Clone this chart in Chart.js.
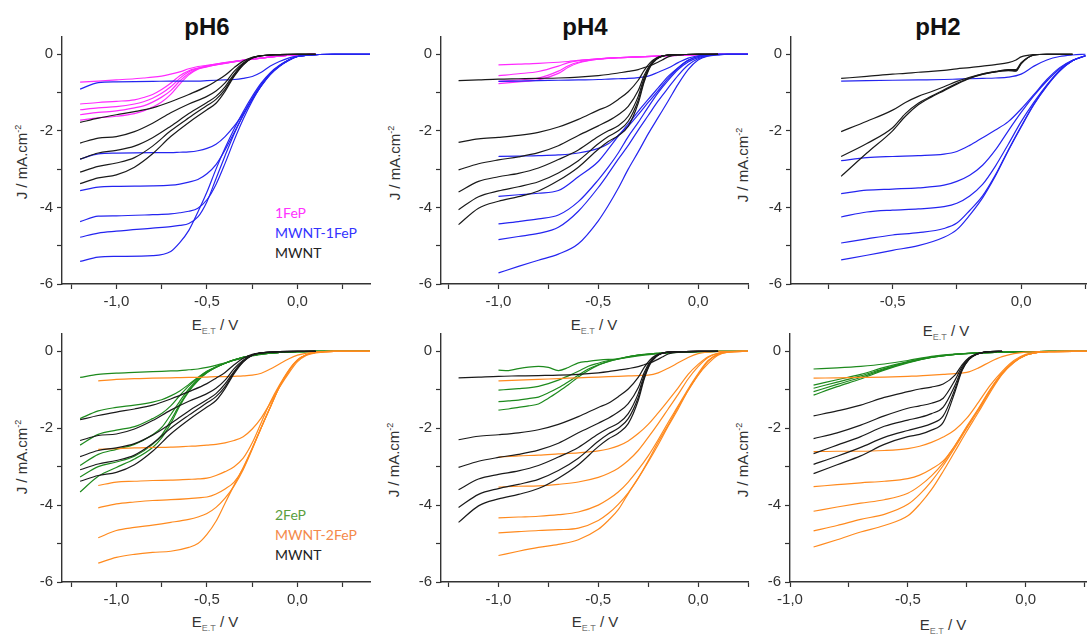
<!DOCTYPE html>
<html>
<head>
<meta charset="utf-8">
<script src="https://cdn.jsdelivr.net/npm/chart.js@4/dist/chart.umd.min.js"></script>
<style>
    body { margin: 0; width: 1087px; height: 637px; overflow: hidden; background: #fff; position: relative; font-family: 'Liberation Sans', Arial, sans-serif; color: #333; }
    canvas { position: absolute; }
    .title { position: absolute; font-weight: bold; font-size: 24px; line-height: 1; color: #111; transform: translate(-50%, -50%); white-space: nowrap; }
    .ylab { position: absolute; font-size: 15px; line-height: 1; transform: translate(-50%, -50%) rotate(-90deg); white-space: nowrap; }
    .ylab sup { font-size: 9px; }
    .xlab { position: absolute; font-size: 15px; line-height: 1; transform: translate(-50%, -50%); white-space: nowrap; }
    .xlab sub { font-size: 9px; color: #777; }
    .leg { position: absolute; font-family: Lato, 'Open Sans', sans-serif; font-size: 14px; line-height: 20px; white-space: nowrap; }
</style>
</head>
<body>

<div class="title" style="left:207px; top:27px;">pH6</div>
<div class="title" style="left:585px; top:27px;">pH4</div>
<div class="title" style="left:938px; top:27px;">pH2</div>

<div class="ylab" style="left:21px; top:162px;">J / mA.cm<sup>-2</sup></div>
<div class="ylab" style="left:394px; top:163px;">J / mA.cm<sup>-2</sup></div>
<div class="ylab" style="left:742px; top:165px;">J / mA.cm<sup>-2</sup></div>
<div class="ylab" style="left:21px; top:457px;">J / mA.cm<sup>-2</sup></div>
<div class="ylab" style="left:393px; top:460px;">J / mA.cm<sup>-2</sup></div>
<div class="ylab" style="left:742px; top:460px;">J / mA.cm<sup>-2</sup></div>

<div class="xlab" style="left:215px; top:326px;">E<sub>E.T</sub> / V</div>
<div class="xlab" style="left:594px; top:326px;">E<sub>E.T</sub> / V</div>
<div class="xlab" style="left:946px; top:332px;">E<sub>E.T</sub> / V</div>
<div class="xlab" style="left:215px; top:623px;">E<sub>E.T</sub> / V</div>
<div class="xlab" style="left:595px; top:623px;">E<sub>E.T</sub> / V</div>
<div class="xlab" style="left:943px; top:626px;">E<sub>E.T</sub> / V</div>

<div class="leg" style="left:275px; top:203px;">
    <div style="color:#ff33ff;">1FeP</div>
    <div style="color:#3333ff;">MWNT-1FeP</div>
    <div style="color:#222;">MWNT</div>
</div>
<div class="leg" style="left:275px; top:505px;">
    <div style="color:#5a9e3e;">2FeP</div>
    <div style="color:#f4894a;">MWNT-2FeP</div>
    <div style="color:#222;">MWNT</div>
</div>

<script>
// ---- axis ticks ----
const yTicks = [0, -1, -2, -3, -4, -5, -6];
const xTicksWide = [-1.25, -1.0, -0.75, -0.5, -0.25, 0, 0.25];
const xTicksPH2top = [-0.75, -0.5, -0.25, 0, 0.25];
const xTicksPH2bot = [-1.0, -0.75, -0.5, -0.25, 0, 0.25];

// ---- pH6 ----
const ph6X_1FeP = [-1.2, -1.1, -1.0, -0.9, -0.85, -0.8, -0.75, -0.7, -0.65, -0.6, -0.55, -0.5, -0.4, -0.3, -0.2, -0.1, 0.0, 0.1];
const ph6_1FeP = [
    [-0.73, -0.70, -0.67, -0.64, -0.62, -0.60, -0.57, -0.52, -0.46, -0.38, -0.32, -0.29, -0.22, -0.16, -0.10, -0.05, -0.02, 0],
    [-1.30, -1.26, -1.23, -1.19, -1.13, -1.05, -0.92, -0.76, -0.56, -0.43, -0.36, -0.30, -0.22, -0.15, -0.10, -0.05, -0.02, 0],
    [-1.45, -1.40, -1.37, -1.30, -1.24, -1.15, -1.02, -0.85, -0.63, -0.46, -0.37, -0.31, -0.23, -0.16, -0.10, -0.05, -0.02, 0],
    [-1.58, -1.52, -1.48, -1.40, -1.35, -1.25, -1.12, -0.95, -0.70, -0.50, -0.38, -0.32, -0.23, -0.16, -0.10, -0.05, -0.02, 0],
    [-1.72, -1.66, -1.62, -1.55, -1.48, -1.38, -1.25, -1.05, -0.78, -0.54, -0.39, -0.33, -0.24, -0.16, -0.10, -0.05, -0.02, 0]
];

const ph6X_MWNT = [-1.2, -1.1, -1.0, -0.9, -0.8, -0.7, -0.6, -0.5, -0.45, -0.4, -0.35, -0.3, -0.25, -0.2, -0.1, 0.0, 0.1];
const ph6_MWNT = [
    [-1.78, -1.67, -1.58, -1.50, -1.40, -1.24, -1.05, -0.84, -0.70, -0.55, -0.35, -0.18, -0.08, -0.04, -0.01, 0, 0],
    [-2.32, -2.19, -2.15, -2.02, -1.80, -1.53, -1.30, -1.10, -0.96, -0.75, -0.45, -0.23, -0.09, -0.04, -0.01, 0, 0],
    [-2.74, -2.58, -2.51, -2.40, -2.18, -1.88, -1.55, -1.26, -1.10, -0.85, -0.52, -0.25, -0.10, -0.04, -0.01, 0, 0],
    [-3.08, -2.93, -2.84, -2.70, -2.40, -2.00, -1.66, -1.34, -1.18, -0.92, -0.55, -0.27, -0.10, -0.04, -0.01, 0, 0],
    [-3.38, -3.23, -3.15, -2.95, -2.60, -2.15, -1.78, -1.45, -1.28, -0.97, -0.58, -0.28, -0.10, -0.04, -0.01, 0, 0]
];

const ph6X_MWNT1FeP = [-1.2, -1.1, -1.0, -0.8, -0.7, -0.65, -0.6, -0.55, -0.5, -0.45, -0.4, -0.35, -0.3, -0.25, -0.2, -0.15, -0.1, -0.05, 0.0, 0.1, 0.2, 0.4];
const ph6_MWNT1FeP = [
    [-0.91, -0.74, -0.72, -0.71, -0.70, -0.70, -0.70, -0.70, -0.69, -0.68, -0.67, -0.66, -0.63, -0.58, -0.47, -0.31, -0.19, -0.10, -0.05, -0.01, 0, 0],
    [-2.74, -2.60, -2.58, -2.57, -2.57, -2.56, -2.55, -2.52, -2.46, -2.35, -2.15, -1.88, -1.55, -1.18, -0.83, -0.53, -0.32, -0.16, -0.06, -0.01, 0, 0],
    [-3.56, -3.47, -3.45, -3.44, -3.42, -3.39, -3.34, -3.27, -3.12, -2.88, -2.50, -2.05, -1.60, -1.18, -0.82, -0.52, -0.31, -0.16, -0.06, -0.01, 0, 0],
    [-4.37, -4.23, -4.22, -4.19, -4.17, -4.14, -4.10, -4.02, -3.80, -3.40, -2.85, -2.25, -1.70, -1.22, -0.82, -0.52, -0.31, -0.16, -0.06, -0.01, 0, 0],
    [-4.78, -4.67, -4.62, -4.54, -4.50, -4.47, -4.42, -4.25, -3.85, -3.25, -2.65, -2.08, -1.58, -1.15, -0.78, -0.50, -0.30, -0.15, -0.06, -0.01, 0, 0],
    [-5.41, -5.30, -5.28, -5.26, -5.15, -4.92, -4.60, -4.12, -3.60, -3.00, -2.45, -1.95, -1.50, -1.10, -0.75, -0.48, -0.29, -0.15, -0.06, -0.01, 0, 0]
];

const ph6X_2FeP = [-1.2, -1.1, -1.0, -0.9, -0.8, -0.75, -0.7, -0.65, -0.6, -0.55, -0.5, -0.4, -0.3, -0.2, -0.1, 0, 0.1, 0.2, 0.4];
const ph6_2FeP = [
    [-0.68, -0.60, -0.57, -0.55, -0.53, -0.52, -0.51, -0.50, -0.48, -0.46, -0.42, -0.30, -0.17, -0.08, -0.03, -0.01, 0, 0, 0],
    [-1.75, -1.55, -1.46, -1.40, -1.32, -1.26, -1.16, -1.03, -0.86, -0.68, -0.52, -0.31, -0.16, -0.07, -0.03, -0.01, 0, 0, 0],
    [-2.44, -2.16, -2.05, -1.96, -1.75, -1.62, -1.42, -1.15, -0.90, -0.70, -0.52, -0.31, -0.16, -0.07, -0.03, -0.01, 0, 0, 0],
    [-2.97, -2.68, -2.55, -2.42, -2.17, -1.98, -1.65, -1.30, -0.98, -0.73, -0.54, -0.31, -0.16, -0.07, -0.03, -0.01, 0, 0, 0],
    [-3.27, -3.00, -2.88, -2.73, -2.42, -2.18, -1.80, -1.38, -1.02, -0.75, -0.55, -0.31, -0.16, -0.07, -0.03, -0.01, 0, 0, 0],
    [-3.66, -3.25, -3.02, -2.80, -2.50, -2.25, -1.88, -1.42, -1.05, -0.77, -0.56, -0.31, -0.16, -0.07, -0.03, -0.01, 0, 0, 0]
];

const ph6X_MWNT2FeP = [-1.1, -1.0, -0.9, -0.8, -0.7, -0.6, -0.55, -0.5, -0.45, -0.4, -0.35, -0.3, -0.25, -0.2, -0.15, -0.1, -0.05, 0, 0.05, 0.1, 0.2, 0.4];
const ph6_MWNT2FeP = [
    [-0.77, -0.73, -0.71, -0.70, -0.69, -0.68, -0.68, -0.67, -0.66, -0.66, -0.65, -0.64, -0.62, -0.57, -0.46, -0.33, -0.20, -0.10, -0.05, -0.02, 0, 0],
    [-2.55, -2.53, -2.51, -2.50, -2.49, -2.47, -2.46, -2.44, -2.42, -2.38, -2.32, -2.22, -2.02, -1.73, -1.34, -0.94, -0.58, -0.27, -0.10, -0.04, 0, 0],
    [-3.49, -3.40, -3.38, -3.36, -3.35, -3.33, -3.32, -3.30, -3.23, -3.13, -3.00, -2.78, -2.38, -1.85, -1.32, -0.88, -0.50, -0.22, -0.09, -0.03, 0, 0],
    [-4.07, -3.97, -3.92, -3.88, -3.86, -3.83, -3.81, -3.79, -3.71, -3.58, -3.40, -3.05, -2.52, -1.98, -1.45, -0.92, -0.52, -0.23, -0.09, -0.03, 0, 0],
    [-4.85, -4.66, -4.58, -4.52, -4.45, -4.37, -4.31, -4.22, -4.06, -3.82, -3.50, -3.08, -2.55, -1.98, -1.45, -0.92, -0.52, -0.23, -0.09, -0.03, 0, 0],
    [-5.51, -5.36, -5.28, -5.23, -5.20, -5.10, -5.00, -4.76, -4.42, -3.95, -3.48, -3.02, -2.52, -1.98, -1.45, -0.92, -0.52, -0.23, -0.09, -0.03, 0, 0]
];

// ---- pH4 ----
const ph4X_1FeP = [-1.0, -0.9, -0.8, -0.7, -0.65, -0.6, -0.55, -0.5, -0.4, -0.3, -0.2, -0.1, 0, 0.1, 0.25];
const ph4_1FeP = [
    [-0.28, -0.26, -0.24, -0.21, -0.19, -0.16, -0.14, -0.12, -0.09, -0.07, -0.05, -0.03, -0.01, 0, 0],
    [-0.56, -0.51, -0.45, -0.31, -0.22, -0.17, -0.14, -0.12, -0.09, -0.07, -0.05, -0.03, -0.01, 0, 0],
    [-0.71, -0.67, -0.62, -0.44, -0.30, -0.21, -0.16, -0.13, -0.09, -0.07, -0.05, -0.03, -0.01, 0, 0],
    [-0.77, -0.72, -0.67, -0.50, -0.34, -0.23, -0.17, -0.13, -0.09, -0.07, -0.05, -0.03, -0.01, 0, 0]
];

const ph4X_MWNT = [-1.2, -1.1, -1.0, -0.9, -0.8, -0.7, -0.6, -0.5, -0.45, -0.4, -0.35, -0.3, -0.27, -0.24, -0.21, -0.18, -0.15, -0.1, 0.0, 0.1];
const ph4_MWNT = [
    [-0.69, -0.67, -0.65, -0.64, -0.63, -0.62, -0.60, -0.56, -0.53, -0.49, -0.45, -0.40, -0.35, -0.30, -0.23, -0.15, -0.07, -0.02, 0, 0],
    [-2.30, -2.21, -2.17, -2.12, -2.04, -1.90, -1.70, -1.46, -1.35, -1.18, -0.98, -0.68, -0.42, -0.22, -0.10, -0.05, -0.02, -0.01, 0, 0],
    [-3.02, -2.86, -2.76, -2.68, -2.57, -2.39, -2.12, -1.87, -1.74, -1.58, -1.36, -0.95, -0.55, -0.27, -0.12, -0.05, -0.02, -0.01, 0, 0],
    [-3.60, -3.32, -3.20, -3.11, -2.97, -2.75, -2.50, -2.15, -2.00, -1.87, -1.62, -1.10, -0.62, -0.29, -0.12, -0.05, -0.02, -0.01, 0, 0],
    [-4.06, -3.72, -3.57, -3.46, -3.33, -3.10, -2.78, -2.34, -2.15, -2.00, -1.75, -1.20, -0.68, -0.31, -0.13, -0.05, -0.02, -0.01, 0, 0],
    [-4.45, -4.02, -3.84, -3.72, -3.57, -3.30, -2.95, -2.48, -2.28, -2.13, -1.88, -1.28, -0.72, -0.33, -0.14, -0.05, -0.02, -0.01, 0, 0]
];

const ph4X_MWNT1FeP = [-1.0, -0.9, -0.8, -0.7, -0.6, -0.5, -0.45, -0.4, -0.35, -0.3, -0.25, -0.2, -0.15, -0.1, -0.05, 0, 0.05, 0.1, 0.15, 0.25];
const ph4_MWNT1FeP = [
    [-0.71, -0.70, -0.69, -0.68, -0.67, -0.66, -0.65, -0.64, -0.63, -0.61, -0.57, -0.47, -0.36, -0.22, -0.10, -0.04, -0.01, 0, 0, 0],
    [-2.67, -2.66, -2.65, -2.63, -2.58, -2.46, -2.34, -2.12, -1.88, -1.58, -1.26, -0.95, -0.63, -0.36, -0.16, -0.06, -0.02, 0, 0, 0],
    [-3.71, -3.67, -3.63, -3.56, -3.20, -2.80, -2.48, -2.14, -1.82, -1.49, -1.18, -0.88, -0.58, -0.35, -0.16, -0.06, -0.02, 0, 0, 0],
    [-4.43, -4.37, -4.30, -4.20, -3.85, -3.28, -2.95, -2.58, -2.15, -1.78, -1.38, -1.00, -0.68, -0.40, -0.20, -0.09, -0.03, -0.01, 0, 0],
    [-4.84, -4.76, -4.68, -4.52, -4.10, -3.48, -3.12, -2.74, -2.38, -1.98, -1.60, -1.22, -0.88, -0.55, -0.28, -0.12, -0.04, -0.01, 0, 0],
    [-5.71, -5.54, -5.38, -5.22, -4.95, -4.35, -3.95, -3.50, -3.00, -2.55, -2.08, -1.65, -1.22, -0.78, -0.40, -0.15, -0.05, -0.02, 0, 0]
];

const ph4X_2FeP = [-1.0, -0.95, -0.9, -0.85, -0.8, -0.75, -0.7, -0.65, -0.6, -0.55, -0.5, -0.45, -0.4, -0.3, -0.2, -0.1, 0, 0.1, 0.25];
const ph4_2FeP = [
    [-0.49, -0.50, -0.45, -0.41, -0.39, -0.42, -0.50, -0.42, -0.30, -0.26, -0.23, -0.21, -0.20, -0.12, -0.06, -0.03, -0.01, 0, 0],
    [-1.01, -0.99, -0.97, -0.95, -0.91, -0.84, -0.75, -0.64, -0.52, -0.39, -0.31, -0.24, -0.19, -0.10, -0.05, -0.02, -0.01, 0, 0],
    [-1.31, -1.29, -1.27, -1.23, -1.19, -1.08, -0.95, -0.79, -0.62, -0.46, -0.35, -0.26, -0.20, -0.10, -0.05, -0.02, -0.01, 0, 0],
    [-1.53, -1.50, -1.46, -1.42, -1.37, -1.22, -1.05, -0.87, -0.67, -0.50, -0.36, -0.27, -0.20, -0.10, -0.05, -0.02, -0.01, 0, 0]
];

const ph4X_MWNT2FeP = [-1.0, -0.9, -0.8, -0.7, -0.6, -0.5, -0.45, -0.4, -0.35, -0.3, -0.25, -0.2, -0.15, -0.1, -0.05, 0, 0.05, 0.1, 0.15, 0.25];
const ph4_MWNT2FeP = [
    [-0.77, -0.75, -0.73, -0.71, -0.69, -0.67, -0.66, -0.65, -0.64, -0.63, -0.62, -0.56, -0.44, -0.30, -0.16, -0.06, -0.02, 0, 0, 0],
    [-2.75, -2.72, -2.70, -2.67, -2.64, -2.59, -2.54, -2.46, -2.33, -2.14, -1.90, -1.60, -1.28, -0.95, -0.60, -0.34, -0.14, -0.05, -0.01, 0],
    [-3.53, -3.51, -3.50, -3.46, -3.40, -3.28, -3.18, -3.04, -2.84, -2.58, -2.24, -1.88, -1.50, -1.12, -0.72, -0.40, -0.16, -0.05, -0.01, 0],
    [-4.33, -4.31, -4.29, -4.25, -4.18, -4.00, -3.85, -3.66, -3.40, -3.08, -2.72, -2.30, -1.85, -1.42, -0.98, -0.58, -0.24, -0.07, -0.02, 0],
    [-4.72, -4.69, -4.66, -4.64, -4.60, -4.40, -4.22, -3.98, -3.68, -3.30, -2.88, -2.43, -1.95, -1.50, -1.02, -0.62, -0.26, -0.08, -0.02, 0],
    [-5.31, -5.20, -5.10, -5.02, -4.90, -4.63, -4.40, -4.12, -3.70, -3.30, -2.85, -2.36, -1.92, -1.45, -1.02, -0.62, -0.32, -0.10, -0.02, 0]
];

// ---- pH2 ----
const ph2X_MWNTtop = [-0.7, -0.6, -0.5, -0.45, -0.4, -0.35, -0.3, -0.25, -0.2, -0.15, -0.1, -0.05, -0.02, 0.0, 0.05, 0.1, 0.2];
const ph2_MWNTtop = [
    [-0.63, -0.58, -0.52, -0.50, -0.47, -0.45, -0.42, -0.38, -0.35, -0.31, -0.27, -0.22, -0.15, -0.07, -0.01, 0, 0],
    [-2.02, -1.75, -1.46, -1.26, -1.10, -0.98, -0.85, -0.71, -0.60, -0.51, -0.45, -0.40, -0.40, -0.22, -0.02, 0, 0],
    [-2.67, -2.33, -1.92, -1.55, -1.28, -1.10, -0.93, -0.76, -0.62, -0.52, -0.46, -0.42, -0.43, -0.24, -0.02, 0, 0],
    [-3.19, -2.58, -2.00, -1.62, -1.32, -1.12, -0.95, -0.78, -0.63, -0.53, -0.46, -0.43, -0.44, -0.25, -0.02, 0, 0]
];

const ph2X_MWNT1FeP = [-0.7, -0.6, -0.5, -0.4, -0.3, -0.25, -0.2, -0.15, -0.1, -0.05, 0, 0.05, 0.1, 0.15, 0.2, 0.25];
const ph2_MWNT1FeP = [
    [-0.70, -0.69, -0.68, -0.67, -0.66, -0.65, -0.64, -0.63, -0.62, -0.60, -0.52, -0.31, -0.15, -0.06, -0.02, 0],
    [-2.78, -2.70, -2.67, -2.65, -2.61, -2.54, -2.38, -2.18, -1.98, -1.76, -1.43, -1.05, -0.66, -0.35, -0.16, -0.04],
    [-3.64, -3.55, -3.52, -3.49, -3.42, -3.32, -3.16, -2.90, -2.50, -2.00, -1.52, -1.08, -0.70, -0.38, -0.16, -0.04],
    [-4.25, -4.12, -4.07, -4.04, -3.98, -3.89, -3.70, -3.40, -2.92, -2.35, -1.76, -1.25, -0.80, -0.42, -0.17, -0.04],
    [-4.93, -4.82, -4.72, -4.66, -4.55, -4.41, -4.08, -3.70, -3.15, -2.50, -1.88, -1.30, -0.82, -0.43, -0.17, -0.04],
    [-5.37, -5.25, -5.12, -5.00, -4.78, -4.58, -4.20, -3.75, -3.18, -2.52, -1.90, -1.31, -0.83, -0.44, -0.17, -0.04]
];

const ph2X_MWNTbot = [-0.9, -0.8, -0.7, -0.6, -0.5, -0.45, -0.4, -0.35, -0.3, -0.27, -0.24, -0.21, -0.18, -0.15, -0.1];
const ph2_MWNTbot = [
    [-1.68, -1.55, -1.40, -1.20, -1.05, -0.98, -0.93, -0.85, -0.62, -0.35, -0.16, -0.07, -0.03, -0.01, 0],
    [-2.27, -2.12, -1.92, -1.68, -1.48, -1.42, -1.35, -1.22, -0.75, -0.40, -0.18, -0.08, -0.03, -0.01, 0],
    [-2.66, -2.44, -2.22, -1.95, -1.79, -1.72, -1.62, -1.45, -0.88, -0.45, -0.19, -0.08, -0.03, -0.01, 0],
    [-2.94, -2.73, -2.50, -2.24, -2.06, -1.98, -1.88, -1.68, -0.98, -0.48, -0.20, -0.08, -0.03, -0.01, 0],
    [-3.18, -2.95, -2.72, -2.42, -2.22, -2.16, -2.05, -1.85, -1.05, -0.50, -0.21, -0.08, -0.03, -0.01, 0]
];

const ph2X_2FeP = [-0.9, -0.8, -0.7, -0.6, -0.5, -0.4, -0.3, -0.2, -0.1, 0, 0.1, 0.26];
const ph2_2FeP = [
    [-0.46, -0.43, -0.39, -0.33, -0.24, -0.13, -0.07, -0.04, -0.02, -0.01, 0, 0],
    [-0.88, -0.74, -0.60, -0.42, -0.27, -0.15, -0.08, -0.04, -0.02, -0.01, 0, 0],
    [-0.96, -0.80, -0.64, -0.45, -0.28, -0.15, -0.08, -0.04, -0.02, -0.01, 0, 0],
    [-1.05, -0.86, -0.68, -0.47, -0.29, -0.16, -0.08, -0.04, -0.02, -0.01, 0, 0],
    [-1.14, -0.92, -0.72, -0.49, -0.30, -0.16, -0.08, -0.04, -0.02, -0.01, 0, 0]
];

const ph2X_MWNT2FeP = [-0.9, -0.8, -0.7, -0.6, -0.5, -0.45, -0.4, -0.35, -0.3, -0.25, -0.2, -0.15, -0.1, -0.05, 0, 0.05, 0.1, 0.2, 0.26];
const ph2_MWNT2FeP = [
    [-0.70, -0.69, -0.68, -0.67, -0.65, -0.64, -0.62, -0.60, -0.58, -0.55, -0.43, -0.27, -0.14, -0.06, -0.02, -0.01, 0, 0, 0],
    [-2.61, -2.60, -2.60, -2.58, -2.53, -2.47, -2.37, -2.23, -2.04, -1.74, -1.32, -0.88, -0.52, -0.24, -0.08, -0.03, -0.01, 0, 0],
    [-3.52, -3.47, -3.42, -3.38, -3.31, -3.22, -3.06, -2.85, -2.45, -1.95, -1.48, -0.98, -0.56, -0.28, -0.10, -0.03, -0.01, 0, 0],
    [-4.16, -4.05, -3.95, -3.86, -3.69, -3.50, -3.24, -2.90, -2.45, -1.98, -1.50, -1.00, -0.57, -0.28, -0.10, -0.03, -0.01, 0, 0],
    [-4.67, -4.53, -4.37, -4.24, -3.98, -3.72, -3.38, -2.97, -2.50, -2.00, -1.52, -1.02, -0.58, -0.28, -0.10, -0.03, -0.01, 0, 0],
    [-5.09, -4.90, -4.70, -4.53, -4.28, -3.98, -3.60, -3.12, -2.60, -2.08, -1.58, -1.06, -0.60, -0.29, -0.10, -0.03, -0.01, 0, 0]
];

// ---- colours ----
const cMagenta = '#ff2aff';
const cBlue = '#2424f0';
const cBlack = '#1a1a1a';
const cGreen = '#1d8a1d';
const cOrange = '#ff8a1e';

// Turn one x grid + a family of y arrays into line datasets
function curves(xs, family, color) {
    return family.map(ys => ({
        data: xs.map((x, i) => ({ x: x, y: ys[i] })),
        borderColor: color,
        borderWidth: 1.2,
        pointRadius: 0,
        fill: false,
        cubicInterpolationMode: 'monotone'
    }));
}

function isHalf(v) {
    return Math.abs(v * 2 - Math.round(v * 2)) < 1e-6;
}

const tickFont = { family: "'Liberation Sans', Arial, sans-serif", size: 15 };

// box = chart area in page pixels [left, top, right, bottom]
function makePanel(box, xMin, xMax, yMax, xTicks, datasets) {
    const padTop = 20, yW = 50, xH = 30, padR = 4;
    const L = Math.round(box[0]), T = Math.round(box[1]);
    const R = Math.round(box[2]), B = Math.round(box[3]);
    const w = (R - L) + yW + padR;
    const h = (B - T) + padTop + xH;

    const canvas = document.createElement('canvas');
    canvas.width = w;
    canvas.height = h;
    canvas.style.left = (L - yW) + 'px';
    canvas.style.top = (T - padTop) + 'px';
    canvas.style.width = w + 'px';
    canvas.style.height = h + 'px';
    document.body.appendChild(canvas);

    return new Chart(canvas, {
        type: 'line',
        data: { datasets: datasets },
        options: {
            responsive: false,
            animation: false,
            devicePixelRatio: 1,
            layout: { padding: { top: padTop, right: padR, left: 0, bottom: 0 } },
            plugins: { legend: { display: false }, tooltip: { enabled: false } },
            scales: {
                x: {
                    type: 'linear',
                    min: xMin,
                    max: xMax,
                    afterBuildTicks: axis => { axis.ticks = xTicks.map(v => ({ value: v })); },
                    afterFit: axis => { axis.height = xH; },
                    ticks: {
                        autoSkip: false,
                        maxRotation: 0,
                        padding: 4,
                        color: '#333',
                        font: tickFont,
                        callback: v => isHalf(v) ? v.toFixed(1).replace('.', ',') : ''
                    },
                    grid: { drawOnChartArea: false, drawTicks: true, tickLength: 5, tickColor: '#333', tickWidth: 1.2 },
                    border: { display: true, color: '#333', width: 1.4 }
                },
                y: {
                    type: 'linear',
                    min: -6,
                    max: yMax,
                    afterBuildTicks: axis => { axis.ticks = yTicks.map(v => ({ value: v })); },
                    afterFit: axis => { axis.width = yW; },
                    ticks: {
                        autoSkip: false,
                        padding: 4,
                        color: '#333',
                        font: tickFont,
                        callback: v => (v % 2 === 0) ? String(v) : ''
                    },
                    grid: { drawOnChartArea: false, drawTicks: true, tickLength: 5, tickColor: '#333', tickWidth: 1.2 },
                    border: { display: true, color: '#333', width: 1.4 }
                }
            }
        }
    });
}

document.addEventListener('DOMContentLoaded', function() {
    // top row
    makePanel([62.4, 37.1, 370.1, 284.3], -1.3, 0.4, 0.45, xTicksWide, [].concat(
        curves(ph6X_MWNT, ph6_MWNT, cBlack),
        curves(ph6X_MWNT1FeP, ph6_MWNT1FeP, cBlue),
        curves(ph6X_1FeP, ph6_1FeP, cMagenta)
    ));
    makePanel([440.7, 37.1, 748.3, 284.3], -1.288, 0.25, 0.45, xTicksWide, [].concat(
        curves(ph4X_MWNT, ph4_MWNT, cBlack),
        curves(ph4X_MWNT1FeP, ph4_MWNT1FeP, cBlue),
        curves(ph4X_1FeP, ph4_1FeP, cMagenta)
    ));
    makePanel([790.7, 37.1, 1087.9, 284.3], -0.895, 0.26, 0.45, xTicksPH2top, [].concat(
        curves(ph2X_MWNTtop, ph2_MWNTtop, cBlack),
        curves(ph2X_MWNT1FeP, ph2_MWNT1FeP, cBlue)
    ));

    // bottom row
    makePanel([62.4, 334.0, 370.1, 581.7], -1.3, 0.4, 0.45, xTicksWide, [].concat(
        curves(ph6X_MWNT, ph6_MWNT, cBlack),
        curves(ph6X_MWNT2FeP, ph6_MWNT2FeP, cOrange),
        curves(ph6X_2FeP, ph6_2FeP, cGreen)
    ));
    makePanel([440.7, 334.0, 748.3, 581.7], -1.288, 0.25, 0.45, xTicksWide, [].concat(
        curves(ph4X_MWNT, ph4_MWNT, cBlack),
        curves(ph4X_MWNT2FeP, ph4_MWNT2FeP, cOrange),
        curves(ph4X_2FeP, ph4_2FeP, cGreen)
    ));
    makePanel([790.0, 334.0, 1087.4, 581.7], -1.0, 0.26, 0.45, xTicksPH2bot, [].concat(
        curves(ph2X_MWNTbot, ph2_MWNTbot, cBlack),
        curves(ph2X_MWNT2FeP, ph2_MWNT2FeP, cOrange),
        curves(ph2X_2FeP, ph2_2FeP, cGreen)
    ));
});
</script>
</body>
</html>
